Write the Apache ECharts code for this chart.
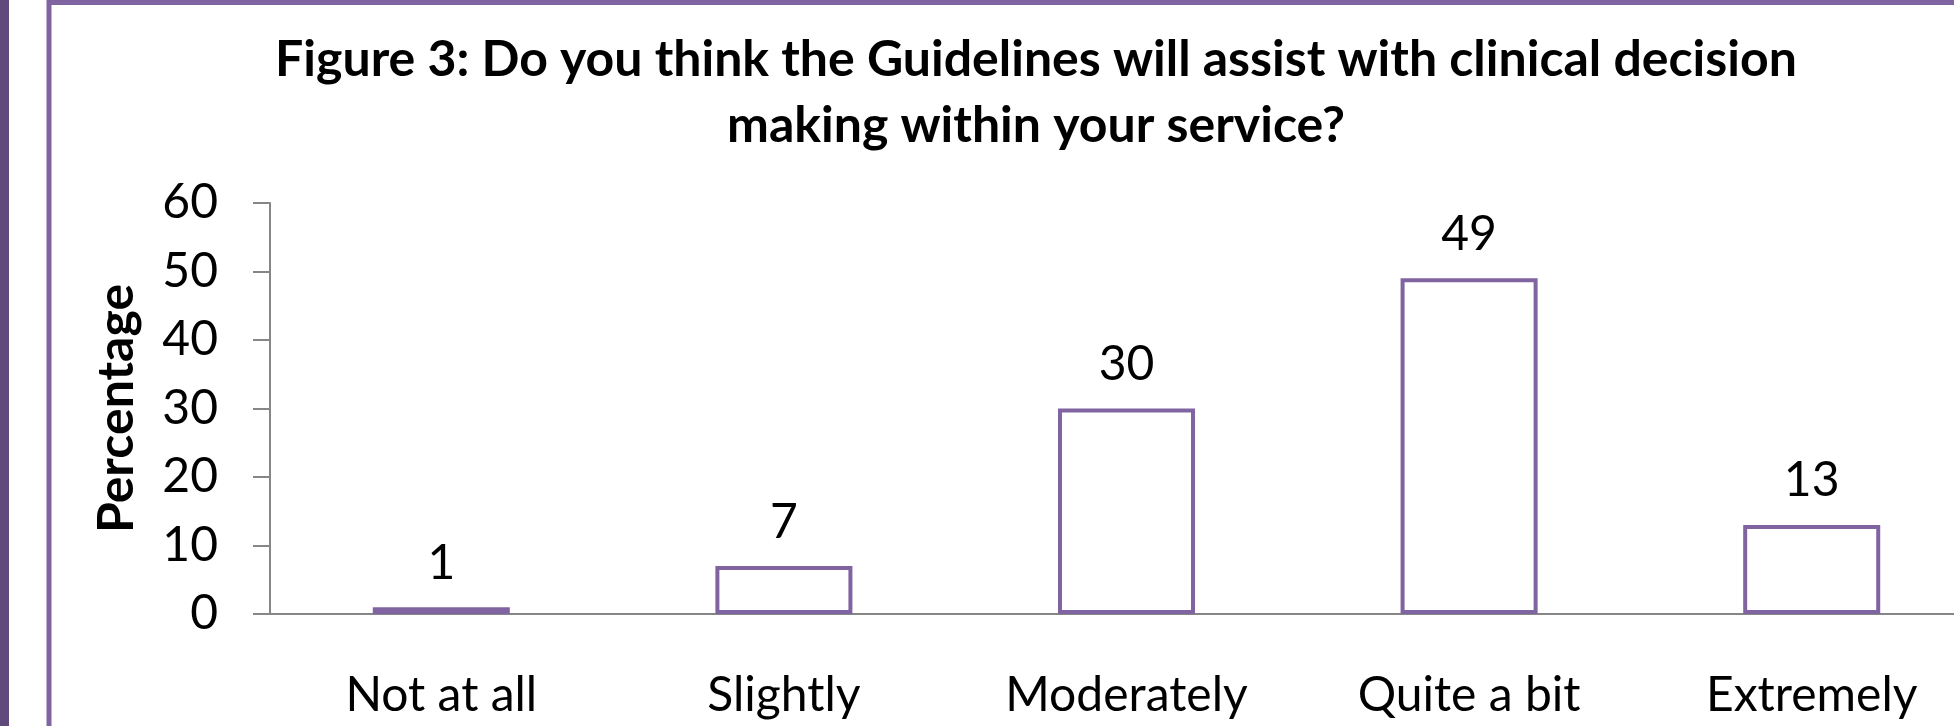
<!DOCTYPE html>
<html>
<head>
<meta charset="utf-8">
<script src="https://cdn.jsdelivr.net/npm/echarts@6/dist/echarts.min.js"></script>
<style>
  html, body { margin: 0; padding: 0; background: #fff; overflow: hidden; }
  #main { position: absolute; left: 0; top: 0; width: 2000px; height: 726px; }
</style>
</head>
<body>
<div id="main"></div>
<script>
// chart data
var categories = ['Not at all', 'Slightly', 'Moderately', 'Quite a bit', 'Extremely'];
var percentages = [1, 7, 30, 49, 13];
var yTicks = [0, 10, 20, 30, 40, 50, 60];

var chart = echarts.init(document.getElementById('main'));
var font = 'Lato, "Open Sans", sans-serif';

chart.setOption({
    animation: false,
    title: {
        text: 'Figure 3: Do you think the Guidelines will assist with clinical decision\nmaking within your service?',
        left: 1031,
        top: 22,
        textAlign: 'center',
        textStyle: {
            fontFamily: font,
            fontWeight: 'bold',
            fontSize: 50,
            lineHeight: 66,
            color: '#000'
        }
    },
    // left stripe and purple frame
    graphic: [
        { type: 'rect', shape: { x: 0, y: 0, width: 9, height: 726 }, style: { fill: '#604a7b' } },
        { type: 'rect', shape: { x: 49, y: 2.5, width: 3000, height: 2000 }, style: { fill: 'none', stroke: '#8064a2', lineWidth: 5 } }
    ],
    grid: { left: 270, top: 203, width: 1713, height: 411 },
    xAxis: {
        type: 'category',
        data: categories,
        axisLine: { lineStyle: { color: '#868686', width: 2 } },
        axisTick: { length: 17, lineStyle: { color: '#868686', width: 2 } },
        axisLabel: { margin: 58, fontFamily: font, fontSize: 48, color: '#000' }
    },
    yAxis: {
        type: 'value',
        min: yTicks[0],
        max: yTicks[yTicks.length - 1],
        interval: 10,
        name: 'Percentage',
        nameLocation: 'middle',
        nameGap: 128,
        nameRotate: 90,
        nameTextStyle: { fontFamily: font, fontWeight: 'bold', fontSize: 50, color: '#000' },
        axisLine: { show: true, lineStyle: { color: '#868686', width: 2 } },
        axisTick: { show: true, length: 17, lineStyle: { color: '#868686', width: 2 } },
        splitLine: { show: false },
        axisLabel: { margin: 52, fontFamily: font, fontSize: 48, color: '#000' }
    },
    series: [{
        type: 'bar',
        data: percentages,
        barWidth: '40%',
        itemStyle: { color: '#fff', borderColor: '#8064a2', borderWidth: 4 },
        label: {
            show: true,
            position: 'top',
            distance: 20,
            fontFamily: font,
            fontSize: 48,
            color: '#000'
        }
    }]
});
</script>
</body>
</html>
